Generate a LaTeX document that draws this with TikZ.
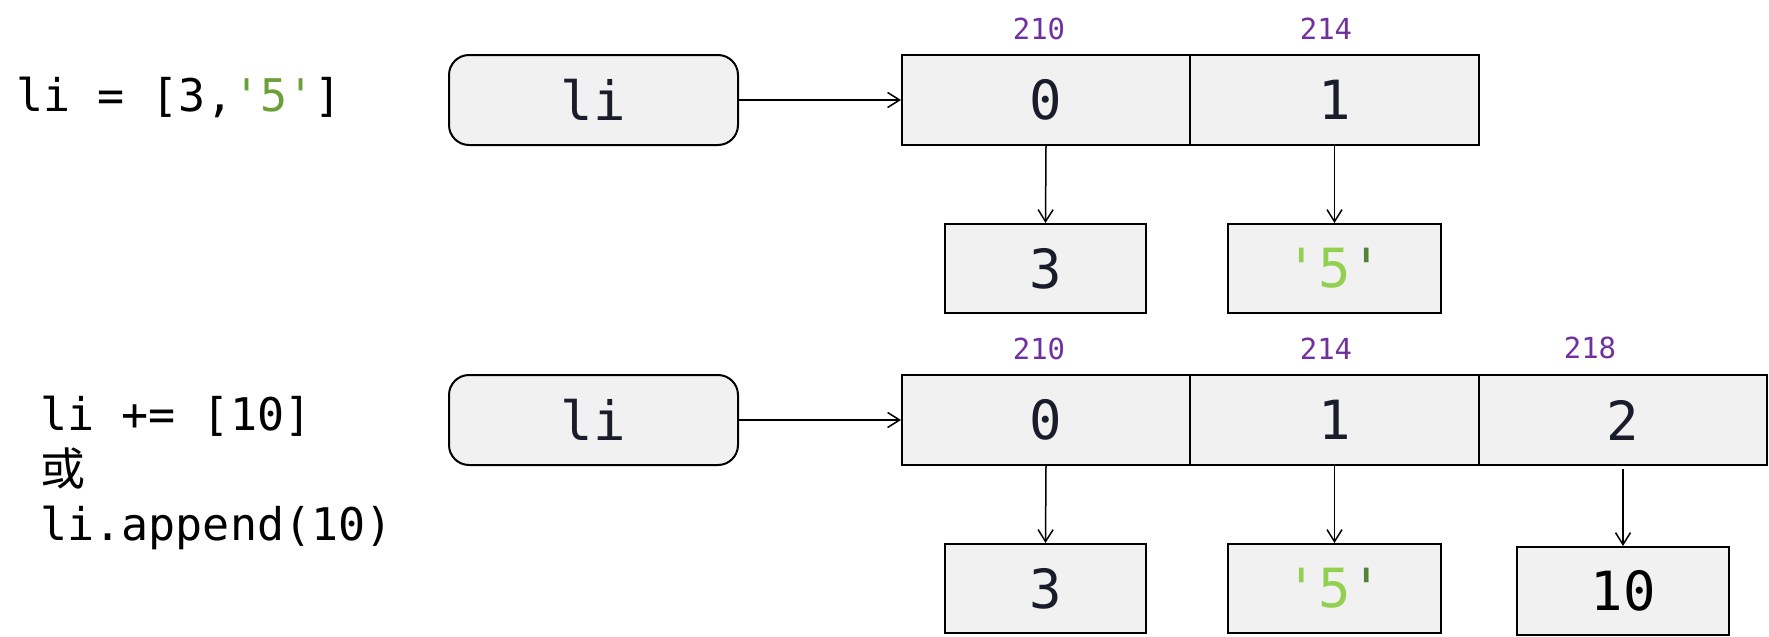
\documentclass[tikz,border=0pt]{standalone}
\usepackage{fontspec}
\setmonofont{DejaVu Sans Mono}
\newfontfamily\cjk{Noto Sans CJK SC}
\usetikzlibrary{arrows.meta}
\definecolor{boxfill}{HTML}{F1F1F1}
\definecolor{ink}{HTML}{1A1C2C}
\definecolor{addr}{HTML}{7030A0}
\definecolor{greenA}{HTML}{6A9F3A}
\definecolor{greenB}{HTML}{92D050}
\definecolor{greenC}{HTML}{548235}
\tikzset{
  cellbox/.style={draw=black, line width=1pt, fill=boxfill, inner sep=0pt,
    font=\ttfamily\fontsize{27}{30}\selectfont, text=ink},
  namebox/.style={cellbox, rounded corners=10pt, minimum width=144.5pt, minimum height=45pt},
  idxcell/.style={cellbox, minimum height=45pt},
  valbox/.style={cellbox, minimum height=44.5pt},
  addrlabel/.style={font=\ttfamily\fontsize{14.5}{16}\selectfont, text=addr, inner sep=0pt},
  codetext/.style={font=\ttfamily\fontsize{22.5}{27.5}\selectfont, text=black, inner sep=0pt, align=left},
  ptr/.style={-{Straight Barb[length=6pt,width=7.5pt]}, line width=0.75pt, black}
}
\begin{document}
\begin{tikzpicture}[x=0.5pt, y=-0.5pt]
\useasboundingbox (0,0) rectangle (1769,637);
% ---------- top row ----------
\node[codetext, anchor=base west] (code1) at (16,112) {li = [3,\textcolor{greenA}{'5'}]};
\node[namebox] (li1) at (593.5,100) {li};
\node[idxcell, minimum width=144pt] (a10) at (1046,100) {0};
\node[idxcell, minimum width=144.5pt] (a11) at (1334.5,100) {1};
\node[addrlabel] (ad10) at (1039,29) {210};
\node[addrlabel] (ad11) at (1326,29) {214};
\node[valbox, minimum width=100.5pt] (v10) at (1045.5,268.5) {3};
\node[valbox, minimum width=106.5pt] (v11) at (1334.5,268.5) {\textcolor{greenB}{'5}\textcolor{greenC}{'}};
\draw[ptr] (li1.east) -- (a10.west);
\draw[ptr] (a10.south) -- (v10.north);
\draw[ptr] (a11.south) -- (v11.north);
% ---------- bottom row ----------
\node[codetext, anchor=base west] (code2) at (40,540) {li += [10]\\{\cjk 或}\\li.append(10)};
\node[namebox] (li2) at (593.5,420) {li};
\node[idxcell, minimum width=144pt] (a20) at (1046,420) {0};
\node[idxcell, minimum width=144.5pt] (a21) at (1334.5,420) {1};
\node[idxcell, minimum width=144pt] (a22) at (1623,420) {2};
\node[addrlabel] (ad20) at (1039,349) {210};
\node[addrlabel] (ad21) at (1326,349) {214};
\node[addrlabel] (ad22) at (1590,348) {218};
\node[valbox, minimum width=100.5pt] (v20) at (1045.5,588.5) {3};
\node[valbox, minimum width=106.5pt] (v21) at (1334.5,588.5) {\textcolor{greenB}{'5}\textcolor{greenC}{'}};
\node[valbox, minimum width=106pt, minimum height=44pt, text=black] (v22) at (1623,591) {10};
\draw[ptr] (li2.east) -- (a20.west);
\draw[ptr] (a20.south) -- (v20.north);
\draw[ptr] (a21.south) -- (v21.north);
\draw[ptr] ([yshift=-1.5pt]a22.south) -- (v22.north);
\end{tikzpicture}
\end{document}
